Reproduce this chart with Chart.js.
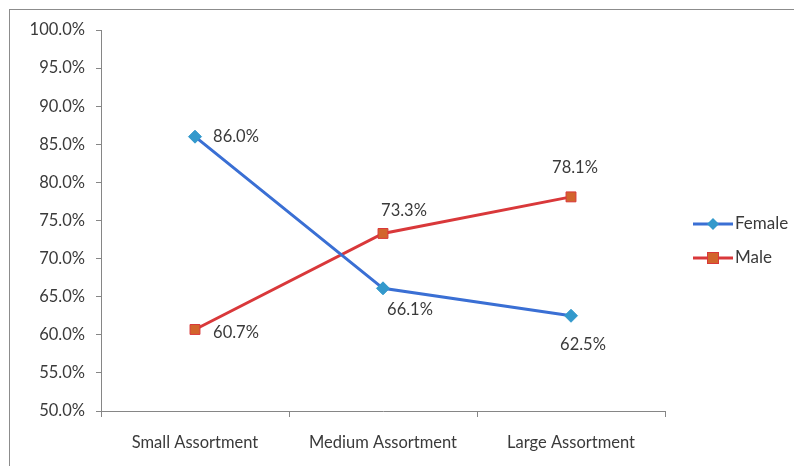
<!DOCTYPE html>
<html><head><meta charset="utf-8">
<script src="https://cdn.jsdelivr.net/npm/chart.js@4/dist/chart.umd.min.js"></script>
<style>html,body{margin:0;padding:0;background:#fff}#wrap{width:794px;height:466px;position:relative}</style>
</head><body><div id="wrap"><canvas id="c" width="794" height="466"></canvas></div>
<script>
const categories = ["Small Assortment", "Medium Assortment", "Large Assortment"];
const femaleValues = [86.0, 66.1, 62.5];
const maleValues = [60.7, 73.3, 78.1];
const yMin = 50, yMax = 100, yStep = 5;

const FONT = "Lato, 'Open Sans', sans-serif";
const TXT = "#3a3a3a";

const labelPlugin = {
  id: 'ptLabels',
  afterDatasetsDraw(chart) {
    const ctx = chart.ctx;
    ctx.save();
    ctx.font = "16.5px " + FONT;
    ctx.fillStyle = TXT;
    ctx.textBaseline = 'middle';
    ctx.textAlign = 'center';
    chart.data.datasets.forEach((ds, di) => {
      const meta = chart.getDatasetMeta(di);
      meta.data.forEach((pt, i) => {
        const off = ds.labelOffset[i];
        const txt = ds.data[i].toFixed(1) + '%';
        ctx.fillText(txt, pt.x + off[0], pt.y + off[1]);
      });
    });
    ctx.restore();
  }
};

const framePlugin = {
  id: 'frame',
  afterDraw(chart) {
    const ctx = chart.ctx;
    ctx.save();
    ctx.strokeStyle = '#8c8c8c';
    ctx.lineWidth = 1;
    ctx.strokeRect(9.5, 9.5, 900, 600);
    const items = chart.data.datasets;
    ctx.font = "17px " + FONT;
    ctx.textBaseline = 'middle';
    ctx.textAlign = 'left';
    items.forEach((ds, i) => {
      const y = 224 + i * 34;
      const x0 = 693, x1 = 733;
      ctx.strokeStyle = ds.borderColor;
      ctx.lineWidth = 3;
      ctx.beginPath(); ctx.moveTo(x0, y); ctx.lineTo(x1, y); ctx.stroke();
      const cx = (x0 + x1) / 2;
      ctx.fillStyle = ds.pointBackgroundColor;
      ctx.strokeStyle = ds.pointBorderColor;
      ctx.lineWidth = 1;
      if (ds.pointStyle === 'rectRot') {
        ctx.beginPath(); ctx.moveTo(cx, y - 6); ctx.lineTo(cx + 6, y); ctx.lineTo(cx, y + 6); ctx.lineTo(cx - 6, y); ctx.closePath(); ctx.fill();
      } else {
        ctx.fillRect(cx - 6, y - 6, 12, 12); ctx.strokeRect(cx - 5.5, y - 5.5, 11, 11);
      }
      ctx.fillStyle = TXT;
      ctx.fillText(ds.label, x1 + 2, y);
    });
    ctx.restore();
  }
};

new Chart(document.getElementById('c'), {
  type: 'line',
  data: {
    labels: categories,
    datasets: [
      { label: 'Female', data: femaleValues, borderColor: '#3a6fd4', borderWidth: 3,
        pointStyle: 'rectRot', pointRadius: 6.5, pointBackgroundColor: '#3399cc', pointBorderColor: '#3399cc', pointBorderWidth: 1,
        labelOffset: [[41, 0], [27, 21], [12, 29]], tension: 0 },
      { label: 'Male', data: maleValues, borderColor: '#d9383a', borderWidth: 3,
        pointStyle: 'rect', pointRadius: 7, pointBackgroundColor: '#d2642c', pointBorderColor: '#d9383a', pointBorderWidth: 1,
        labelOffset: [[41, 3], [21, -23], [4, -29]], tension: 0 }
    ]
  },
  options: {
    responsive: false, animation: false,
    layout: { padding: { top: 30, right: 129, left: 0, bottom: 0 } },
    plugins: { legend: { display: false }, tooltip: { enabled: false } },
    scales: {
      y: {
        min: yMin, max: yMax,
        ticks: { stepSize: yStep, color: TXT, font: { family: FONT, size: 16.5 }, padding: 11,
          callback: v => v.toFixed(1) + '%' },
        grid: { drawOnChartArea: false, drawTicks: true, tickLength: 5, color: '#868686' },
        border: { color: '#868686', width: 1 },
        afterFit(s) { s.width = 101; }
      },
      x: {
        offset: true,
        ticks: { color: TXT, font: { family: FONT, size: 16.5 }, padding: 16, maxRotation: 0 },
        grid: { offset: true, drawOnChartArea: false, drawTicks: true, tickLength: 6, color: '#868686' },
        border: { color: '#868686', width: 1 },
        afterFit(s) { s.height = 55; }
      }
    }
  },
  plugins: [labelPlugin, framePlugin]
});
</script>
</body></html>
